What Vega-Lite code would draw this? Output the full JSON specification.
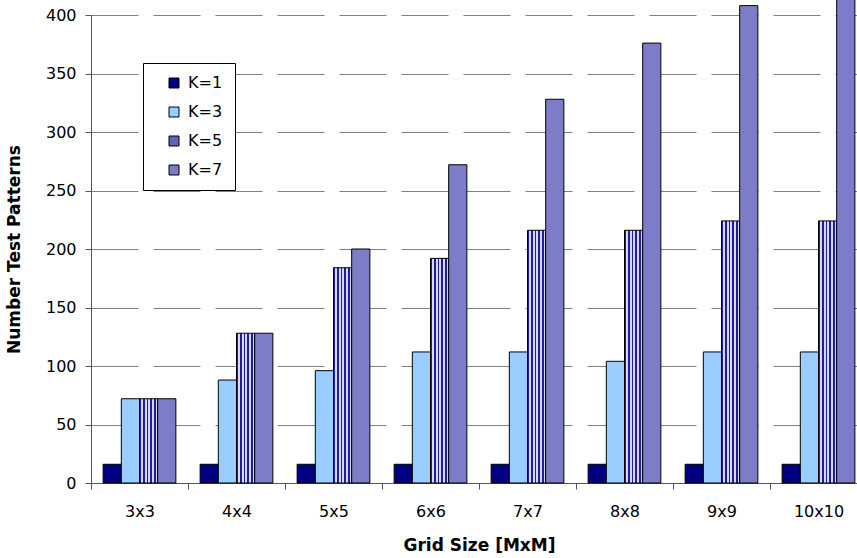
{
  "$schema": "https://vega.github.io/schema/vega-lite/v6.json",
  "width": 776,
  "height": 468,
  "autosize": {"type": "none"},
  "padding": {"left": 91, "top": 15, "right": 0, "bottom": 75},
  "background": "white",
  "config": {"view": {"stroke": null}, "font": "DejaVu Sans"},
  "data": {
    "values": [
      {"grid": "3x3", "K": "K=1", "value": 16},
      {"grid": "3x3", "K": "K=3", "value": 72},
      {"grid": "3x3", "K": "K=5", "value": 72},
      {"grid": "3x3", "K": "K=7", "value": 72},
      {"grid": "4x4", "K": "K=1", "value": 16},
      {"grid": "4x4", "K": "K=3", "value": 88},
      {"grid": "4x4", "K": "K=5", "value": 128},
      {"grid": "4x4", "K": "K=7", "value": 128},
      {"grid": "5x5", "K": "K=1", "value": 16},
      {"grid": "5x5", "K": "K=3", "value": 96},
      {"grid": "5x5", "K": "K=5", "value": 184},
      {"grid": "5x5", "K": "K=7", "value": 200},
      {"grid": "6x6", "K": "K=1", "value": 16},
      {"grid": "6x6", "K": "K=3", "value": 112},
      {"grid": "6x6", "K": "K=5", "value": 192},
      {"grid": "6x6", "K": "K=7", "value": 272},
      {"grid": "7x7", "K": "K=1", "value": 16},
      {"grid": "7x7", "K": "K=3", "value": 112},
      {"grid": "7x7", "K": "K=5", "value": 216},
      {"grid": "7x7", "K": "K=7", "value": 328},
      {"grid": "8x8", "K": "K=1", "value": 16},
      {"grid": "8x8", "K": "K=3", "value": 104},
      {"grid": "8x8", "K": "K=5", "value": 216},
      {"grid": "8x8", "K": "K=7", "value": 376},
      {"grid": "9x9", "K": "K=1", "value": 16},
      {"grid": "9x9", "K": "K=3", "value": 112},
      {"grid": "9x9", "K": "K=5", "value": 224},
      {"grid": "9x9", "K": "K=7", "value": 408},
      {"grid": "10x10", "K": "K=1", "value": 16},
      {"grid": "10x10", "K": "K=3", "value": 112},
      {"grid": "10x10", "K": "K=5", "value": 224},
      {"grid": "10x10", "K": "K=7", "value": 432}
    ]
  },
  "mark": {"type": "bar", "stroke": "black", "strokeWidth": 1, "clip": false},
  "encoding": {
    "x": {
      "field": "grid",
      "type": "nominal",
      "sort": ["3x3", "4x4", "5x5", "6x6", "7x7", "8x8", "9x9", "10x10"],
      "scale": {"paddingInner": 0, "paddingOuter": 0},
      "axis": {
        "title": "Grid Size [MxM]",
        "labelAngle": 0,
        "tickBand": "extent",
        "ticks": true,
        "tickSize": 6,
        "tickColor": "#555555",
        "domainColor": "#555555",
        "labelFontSize": 16,
        "labelPadding": 14,
        "labelColor": "black",
        "titleFontSize": 17,
        "titleFontWeight": "bold",
        "titleColor": "black",
        "titlePadding": 18,
        "grid": false
      }
    },
    "xOffset": {
      "field": "K",
      "type": "nominal",
      "scale": {"paddingOuter": 0.667, "paddingInner": 0}
    },
    "y": {
      "field": "value",
      "type": "quantitative",
      "scale": {"domain": [0, 400], "nice": false},
      "axis": {
        "values": [0, 50, 100, 150, 200, 250, 300, 350, 400],
        "title": "Number Test Patterns",
        "titleFontSize": 17,
        "titleFontWeight": "bold",
        "titleColor": "black",
        "titlePadding": 22,
        "labelFontSize": 16,
        "labelColor": "black",
        "labelPadding": 9,
        "tickSize": 6,
        "tickColor": "#555555",
        "domainColor": "#555555",
        "gridColor": "#808080",
        "gridDash": [47, 15],
        "gridWidth": 1
      }
    },
    "fill": {
      "field": "K",
      "type": "nominal",
      "scale": {
        "domain": ["K=1", "K=3", "K=5", "K=7"],
        "range": ["#000080", "#99CCFF", "#6262BC", "#7C7CC8"]
      },
      "legend": {
        "title": null,
        "orient": "none",
        "legendX": 52,
        "legendY": 48,
        "fillColor": "white",
        "strokeColor": "black",
        "padding": 12,
        "symbolType": "square",
        "symbolSize": 100,
        "symbolStrokeColor": "black",
        "symbolStrokeWidth": 1,
        "symbolOffset": 11,
        "labelFontSize": 16,
        "labelColor": "black",
        "labelOffset": 6,
        "rowPadding": 13
      },
      "condition": {
        "test": "datum.K === 'K=5'",
        "value": {
          "gradient": "linear",
          "x1": 0, "y1": 0, "x2": 1, "y2": 0,
          "stops": [
            {"offset": 0, "color": "#1E1E9A"},
            {"offset": 0.08, "color": "#1E1E9A"},
            {"offset": 0.08, "color": "#D6D6F6"},
            {"offset": 0.2, "color": "#D6D6F6"},
            {"offset": 0.2, "color": "#1E1E9A"},
            {"offset": 0.28, "color": "#1E1E9A"},
            {"offset": 0.28, "color": "#D6D6F6"},
            {"offset": 0.4, "color": "#D6D6F6"},
            {"offset": 0.4, "color": "#1E1E9A"},
            {"offset": 0.48, "color": "#1E1E9A"},
            {"offset": 0.48, "color": "#D6D6F6"},
            {"offset": 0.6, "color": "#D6D6F6"},
            {"offset": 0.6, "color": "#1E1E9A"},
            {"offset": 0.68, "color": "#1E1E9A"},
            {"offset": 0.68, "color": "#D6D6F6"},
            {"offset": 0.8, "color": "#D6D6F6"},
            {"offset": 0.8, "color": "#1E1E9A"},
            {"offset": 0.88, "color": "#1E1E9A"},
            {"offset": 0.88, "color": "#D6D6F6"},
            {"offset": 1, "color": "#D6D6F6"}
          ]
        }
      }
    }
  }
}
